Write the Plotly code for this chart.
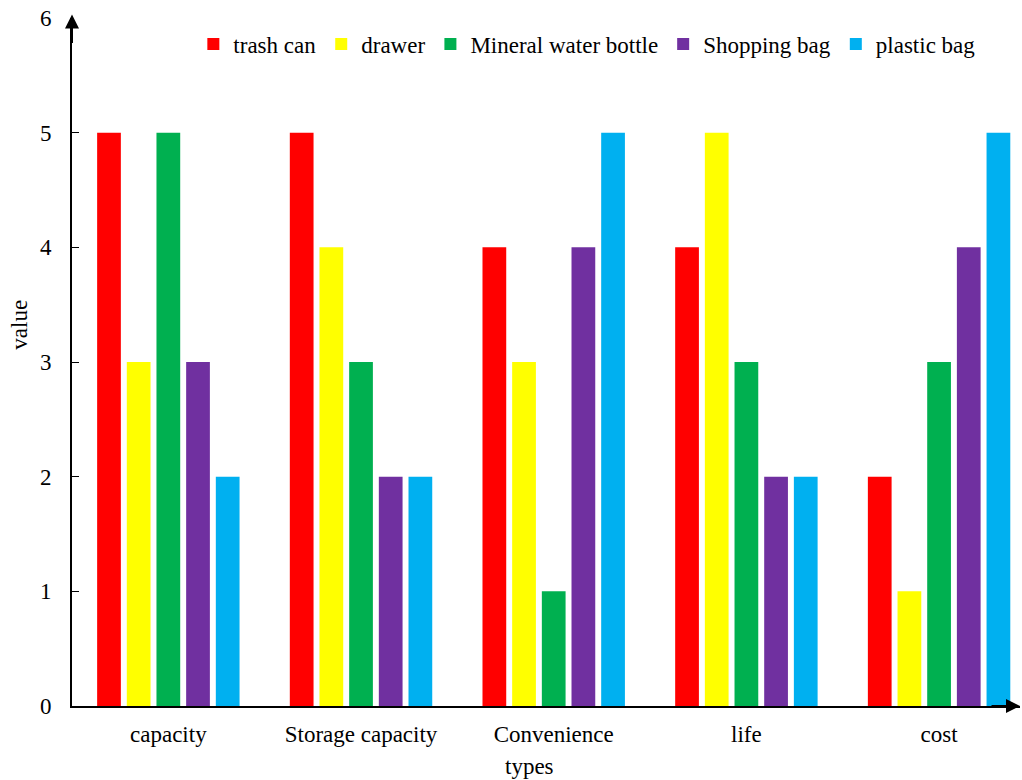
import plotly.graph_objects as go

categories = ["capacity", "Storage capacity", "Convenience", "life", "cost"]
series_names = ["trash can", "drawer", "Mineral water bottle", "Shopping bag", "plastic bag"]
trash_can = [5, 5, 4, 4, 2]
drawer = [3, 4, 3, 5, 1]
mineral_water_bottle = [5, 3, 1, 3, 3]
shopping_bag = [3, 2, 4, 2, 4]
plastic_bag = [2, 2, 5, 2, 5]
colors = ["#FF0000", "#FFFF00", "#00B050", "#7030A0", "#00B0F0"]
y_ticks = [0, 1, 2, 3, 4, 5, 6]

values = [trash_can, drawer, mineral_water_bottle, shopping_bag, plastic_bag]
FONT = "Liberation Serif"

fig = go.Figure()
for name, vals, col in zip(series_names, values, colors):
    fig.add_trace(go.Bar(x=categories, y=vals, name=name, marker=dict(color=col, line=dict(width=0))))

fig.update_layout(
    width=1022, height=780,
    margin=dict(l=72, r=2, t=18, b=74),
    paper_bgcolor="white", plot_bgcolor="white",
    barmode="group", bargap=0.23, bargroupgap=0.2,
    font=dict(family=FONT, size=23, color="black"),
    showlegend=True,
    legend=dict(orientation="h", x=0.128, y=0.962, xanchor="left", yanchor="middle",
                font=dict(family=FONT, size=23), itemwidth=30, tracegroupgap=0,
                bgcolor="rgba(0,0,0,0)"),
    xaxis=dict(range=[-0.5, 4.42], showline=True, linecolor="black", linewidth=2,
               ticks="", showgrid=False, zeroline=False,
               tickfont=dict(family=FONT, size=23), ticklabelstandoff=6),
    yaxis=dict(range=[0, 6], tickvals=y_ticks, showline=True, linecolor="black", linewidth=2,
               ticks="inside", ticklen=7, tickwidth=1, tickcolor="black", showgrid=False,
               zeroline=False, tickfont=dict(family=FONT, size=23), ticklabelstandoff=14),
    annotations=[
        dict(text="value", xref="paper", yref="paper", x=-0.055, y=0.554, textangle=-90,
             showarrow=False, xanchor="center", yanchor="middle", font=dict(family=FONT, size=23)),
        dict(text="types", xref="paper", yref="paper", x=0.483, y=-0.088,
             showarrow=False, xanchor="center", yanchor="middle", font=dict(family=FONT, size=23)),
        dict(text="", xref="paper", yref="paper", x=0, y=1.005, ax=0, ay=30,
             showarrow=True, arrowhead=2, arrowsize=1.4, arrowwidth=2, arrowcolor="black"),
        dict(text="", xref="paper", yref="paper", x=1.0, y=0, ax=-30, ay=0,
             showarrow=True, arrowhead=2, arrowsize=1.4, arrowwidth=2, arrowcolor="black"),
    ],
)

fig.write_html("out.html")
